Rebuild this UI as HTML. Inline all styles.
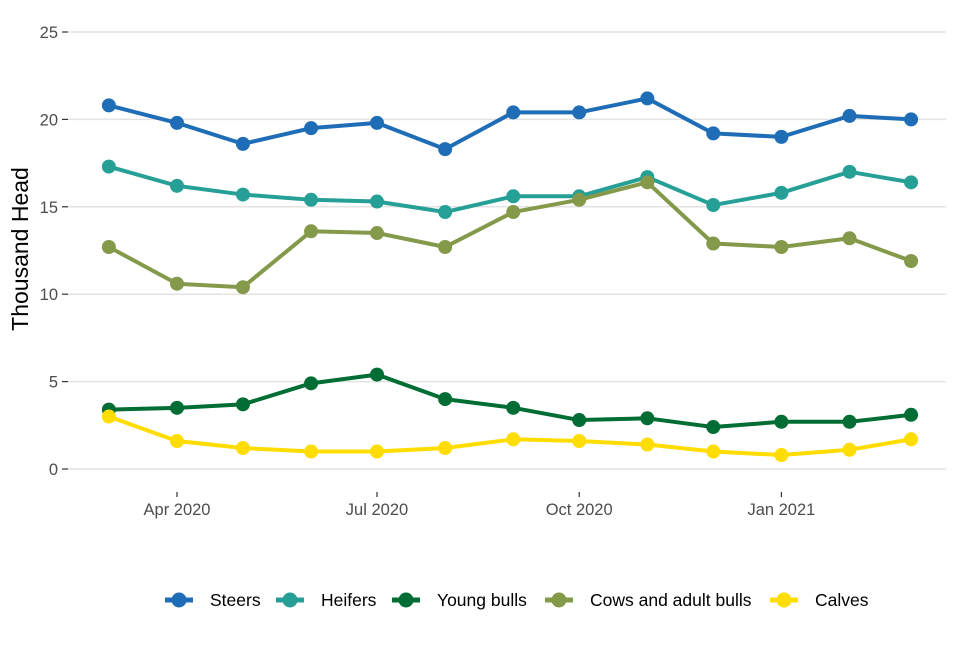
<!DOCTYPE html>
<html><head><meta charset="utf-8"><style>
body{margin:0;background:#fff;font-family:"Liberation Sans",Arial,sans-serif}
svg text{font-family:"Liberation Sans",Arial,sans-serif}
</style></head><body>
<svg id="chart" width="960" height="640" xmlns="http://www.w3.org/2000/svg">
<g id="grid"></g>
<g id="yaxis"></g>
<g id="xaxis"></g>
<text transform="translate(28,249) rotate(-90)" text-anchor="middle" font-size="23" fill="#000">Thousand Head</text>
<g id="series"></g>
<g id="legend"></g>
</svg>
<script>
const months = ["2020-03-01","2020-04-01","2020-05-01","2020-06-01","2020-07-01","2020-08-01","2020-09-01","2020-10-01","2020-11-01","2020-12-01","2021-01-01","2021-02-01","2021-03-01"];
const steers = [20.8,19.8,18.6,19.5,19.8,18.3,20.4,20.4,21.2,19.2,19.0,20.2,20.0];
const heifers = [17.3,16.2,15.7,15.4,15.3,14.7,15.6,15.6,16.7,15.1,15.8,17.0,16.4];
const youngBulls = [3.4,3.5,3.7,4.9,5.4,4.0,3.5,2.8,2.9,2.4,2.7,2.7,3.1];
const cows = [12.7,10.6,10.4,13.6,13.5,12.7,14.7,15.4,16.4,12.9,12.7,13.2,11.9];
const calves = [3.0,1.6,1.2,1.0,1.0,1.2,1.7,1.6,1.4,1.0,0.8,1.1,1.7];
const yTicks = [0,5,10,15,20,25];
const xTickDates = ["2020-04-01","2020-07-01","2020-10-01","2021-01-01"];
const xTickLabels = ["Apr 2020","Jul 2020","Oct 2020","Jan 2021"];
const seriesNames = ["Steers","Heifers","Young bulls","Cows and adult bulls","Calves"];

const NS="http://www.w3.org/2000/svg";
const day0=Date.parse("2020-04-01");
function x(d){return 177+(Date.parse(d)-day0)/86400000*(200/91);}
function y(v){return 469-v*(437/25);}
function mk(t,a,p){const e=document.createElementNS(NS,t);for(const k in a)e.setAttribute(k,a[k]);p.appendChild(e);return e;}
const grid=document.getElementById('grid'),ya=document.getElementById('yaxis'),xa=document.getElementById('xaxis');
yTicks.forEach(v=>{
  const l=mk('line',{x1:68,x2:946,y1:y(v),y2:y(v),stroke:'#e3e3e3','stroke-width':1.5},grid);
  
  
  mk('line',{x1:62,x2:68,y1:y(v),y2:y(v),stroke:'#333','stroke-width':1.2},ya);
  const t=mk('text',{x:58,y:y(v)+6,'text-anchor':'end','font-size':16.5,fill:'#4d4d4d'},ya);
  t.textContent=v;
  
  
});
xTickDates.forEach((d,i)=>{
  mk('line',{x1:x(d),x2:x(d),y1:492,y2:497,stroke:'#333','stroke-width':1.2},xa);
  const t=mk('text',{x:x(d),y:515,'text-anchor':'middle','font-size':16.5,fill:'#4d4d4d'},xa);
  t.textContent=xTickLabels[i];
  
  
});
const sg=document.getElementById('series');
const all=[[steers,'#1f6db6'],[heifers,'#26a096'],[youngBulls,'#006d34'],[cows,'#84994a'],[calves,'#ffdd00']];
[0,1,2,3,4].forEach(i=>{
  const [vals,col]=all[i];
  const g=mk('g',{},sg);
  
  
  mk('polyline',{points:vals.map((v,j)=>x(months[j])+','+y(v)).join(' '),fill:'none',stroke:col,'stroke-width':4,'stroke-linejoin':'round'},g);
  vals.forEach((v,j)=>{
    const c=mk('circle',{cx:x(months[j]),cy:y(v),r:7,fill:col},g);
    
    
  });
});
const lg=document.getElementById('legend');
const lx=[179,290,406,559,784];
seriesNames.forEach((n,i)=>{
  const g=mk('g',{},lg);
  
  
  mk('line',{x1:lx[i]-14,x2:lx[i]+14,y1:600,y2:600,stroke:all[i][1],'stroke-width':5},g);
  mk('circle',{cx:lx[i],cy:600,r:7.5,fill:all[i][1]},g);
  const t=mk('text',{x:lx[i]+31,y:606,'font-size':17.5,fill:'#000'},g);
  t.textContent=n;
});
</script>
</body></html>
